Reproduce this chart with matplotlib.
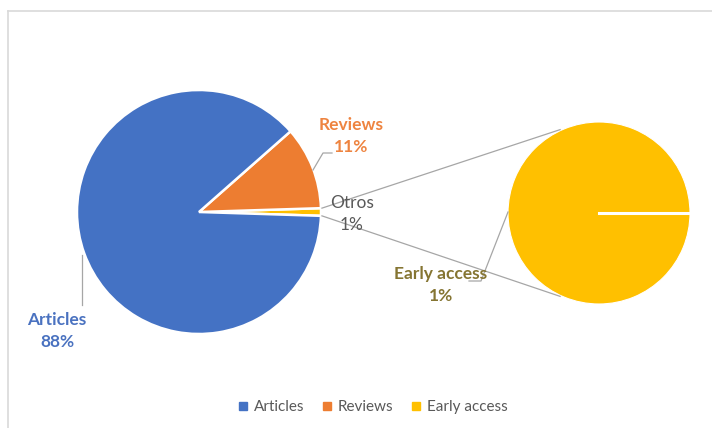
import numpy as np
import matplotlib.pyplot as plt
from matplotlib.lines import Line2D

# Publication types, share of total (%)
categories = ['Articles', 'Reviews', 'Early access']
shares = [88, 11, 1]
other_label = 'Otros'

colors = ['#4472C4', '#ED7D31', '#FFC000']
label_colors = ['#4A72C0', '#EE8440', '#857532']
grey = '#A6A6A6'
text_grey = '#595959'

plt.rcParams['font.family'] = ['Lato', 'DejaVu Sans']

fig = plt.figure(figsize=(7.12, 4.28), dpi=100)
ax = fig.add_axes([0, 0, 1, 1])
ax.set_xlim(0, 712)
ax.set_ylim(0, 428)
ax.set_aspect('equal')
ax.axis('off')

# chart frame (top and left edges)
fig.add_artist(Line2D([7.5 / 712, 1], [1 - 11 / 428, 1 - 11 / 428], color='#D9D9D9', lw=1.2))
fig.add_artist(Line2D([7.5 / 712, 7.5 / 712], [0, 1 - 11 / 428], color='#D9D9D9', lw=1.2))

# main pie: the smallest category is grouped as "Otros", centred on the right
main_c, main_r = (199, 216), 122
main_vals = [shares[2], shares[1], shares[0]]
main_cols = [colors[2], colors[1], colors[0]]
start = -shares[2] / sum(shares) * 360 / 2
wedges, _ = ax.pie(main_vals, colors=main_cols, startangle=start, center=main_c,
                   radius=main_r, frame=True,
                   wedgeprops=dict(edgecolor='white', linewidth=1.8))
other_wedge = wedges[0]

# secondary pie: breakdown of "Otros"
sec_c, sec_r = (599, 215), 91
sec_vals = [shares[2]]
sec_wedges, _ = ax.pie(sec_vals, colors=[colors[2]], startangle=0, center=sec_c,
                       radius=sec_r, frame=True,
                       wedgeprops=dict(edgecolor='white', linewidth=0.8))
# slice boundary at the start angle of the full-circle slice
t0 = np.deg2rad(sec_wedges[0].theta1)
ax.plot([sec_c[0], sec_c[0] + sec_r * np.cos(t0)],
        [sec_c[1], sec_c[1] + sec_r * np.sin(t0)], color='white', lw=2.2, zorder=3)

ax.set_xlim(0, 712)
ax.set_ylim(0, 428)
ax.axis('off')


def on_circle(c, r, deg):
    a = np.deg2rad(deg)
    return c[0] + r * np.cos(a), c[1] + r * np.sin(a)


# connector lines between the "Otros" slice and the secondary pie
for th_main, th_sec in [(other_wedge.theta2, 115), (other_wedge.theta1, 245)]:
    p0 = on_circle(main_c, main_r + 1, th_main)
    p1 = on_circle(sec_c, sec_r + 1, th_sec)
    ax.plot([p0[0], p1[0]], [p0[1], p1[1]], color=grey, lw=0.9, zorder=1)

# data labels
def pct(v):
    return f'{round(v / sum(shares) * 100)}%'


fs = 12.5
ls = 1.45
ax.text(57, 428 - 331, f'{categories[0]}\n{pct(shares[0])}', ha='center', va='center',
        fontsize=fs, fontweight='bold', color=label_colors[0], linespacing=ls)
ax.plot([82, 82], [428 - 255, 428 - 305], color=grey, lw=0.9)

ax.text(351, 428 - 136, f'{categories[1]}\n{pct(shares[1])}', ha='center', va='center',
        fontsize=fs, fontweight='bold', color=label_colors[1], linespacing=ls)
ax.plot([332, 323, 313], [428 - 153, 428 - 153, 428 - 170], color=grey, lw=0.9)

ax.text(352, 428 - 214, f'{other_label}\n{pct(shares[2])}', ha='center', va='center',
        fontsize=fs, color=text_grey, linespacing=ls)

ax.text(441, 428 - 285, f'{categories[2]}\n{pct(shares[2])}', ha='center', va='center',
        fontsize=fs, fontweight='bold', color=label_colors[2], linespacing=ls)
ax.plot([508, 481, 469], [428 - 212, 428 - 281, 428 - 281], color=grey, lw=0.9)

# legend
handles = [Line2D([], [], marker='s', linestyle='none', markersize=5.5,
                  markerfacecolor=c, markeredgecolor=c) for c in colors]
leg = ax.legend(handles, categories, loc='center', bbox_to_anchor=(373 / 712, 1 - 407 / 428),
                ncol=3, frameon=False, fontsize=11, handlelength=0.6, handletextpad=0.4,
                columnspacing=1.2)
for t in leg.get_texts():
    t.set_color(text_grey)

fig.savefig('out.png', dpi=100, facecolor='white')
